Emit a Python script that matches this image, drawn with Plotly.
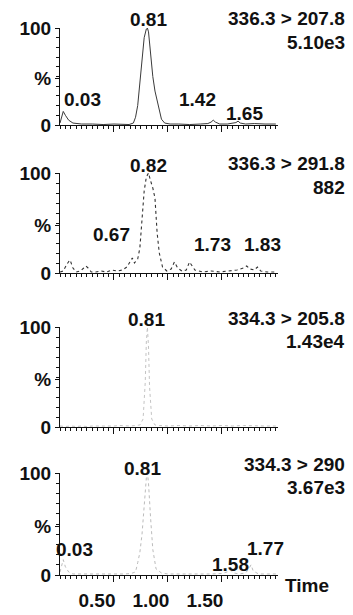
import plotly.graph_objects as go

# MRM chromatograms: retention time (min) vs relative intensity (%)
t_336_207 = [0.00, 0.02, 0.03, 0.05, 0.08, 0.12, 0.20, 0.30, 0.40, 0.50,
             0.58, 0.64, 0.68, 0.70, 0.72, 0.74, 0.76, 0.78, 0.80, 0.81,
             0.82, 0.84, 0.86, 0.88, 0.90, 0.92, 0.94, 0.97, 1.02, 1.10,
             1.20, 1.30, 1.37, 1.40, 1.42, 1.44, 1.48, 1.55, 1.60, 1.63,
             1.65, 1.67, 1.72, 1.80, 1.90, 2.00]
i_336_207 = [2, 9, 14, 10, 5, 2, 1, 1, 0.5, 1,
             0.5, 0.5, 2, 8, 20, 45, 72, 90, 99, 100,
             96, 72, 50, 35, 25, 15, 6, 2, 1, 1,
             0.5, 1, 1.5, 3, 5, 3, 1, 1, 1.5, 2.5,
             4, 2, 1, 1.5, 1, 1]

t_336_291 = [0.00, 0.03, 0.06, 0.08, 0.09, 0.10, 0.12, 0.15, 0.19, 0.22,
             0.24, 0.26, 0.29, 0.33, 0.38, 0.43, 0.48, 0.53, 0.58, 0.62,
             0.65, 0.67, 0.69, 0.72, 0.74, 0.76, 0.78, 0.80, 0.82, 0.84,
             0.86, 0.88, 0.90, 0.92, 0.95, 0.99, 1.03, 1.06, 1.09, 1.13,
             1.17, 1.20, 1.25, 1.32, 1.40, 1.48, 1.56, 1.64, 1.70, 1.73,
             1.76, 1.80, 1.83, 1.86, 1.92, 2.00]
i_336_291 = [1, 2, 8, 12, 13, 11, 5, 1, 2, 5,
             7, 5, 1, 1, 2, 1, 3, 2, 3, 6,
             11, 15, 10, 14, 25, 55, 82, 96, 100, 92,
             85, 75, 40, 20, 6, 2, 4, 11, 5, 2,
             3, 11, 3, 1, 2, 1, 2, 3, 5, 7,
             4, 3, 6, 2, 1, 1]

t_334_205 = [0.00, 0.05, 0.10, 0.15, 0.20, 0.25, 0.30, 0.35, 0.40, 0.45,
             0.50, 0.55, 0.60, 0.65, 0.70, 0.74, 0.77, 0.79, 0.80, 0.81,
             0.82, 0.83, 0.85, 0.88, 0.92, 1.00, 1.10, 1.20, 1.30, 1.40,
             1.50, 1.60, 1.70, 1.80, 1.90, 2.00]
i_334_205 = [1, 0.5, 1, 0.5, 1, 0.5, 1, 1, 0.5, 1,
             1, 1.5, 1, 1, 1.5, 2, 8, 45, 85, 100,
             80, 40, 8, 2, 1.5, 1, 1.5, 1, 1.5, 1,
             1.5, 1, 1.5, 1, 1, 1]

t_334_290 = [0.00, 0.02, 0.03, 0.05, 0.08, 0.12, 0.20, 0.30, 0.40, 0.50,
             0.60, 0.66, 0.70, 0.72, 0.74, 0.76, 0.78, 0.80, 0.81, 0.82,
             0.84, 0.86, 0.89, 0.94, 1.00, 1.10, 1.20, 1.30, 1.40, 1.50,
             1.55, 1.58, 1.61, 1.66, 1.72, 1.75, 1.77, 1.79, 1.84, 1.92,
             2.00]
i_334_290 = [3, 10, 15, 8, 3, 1, 1, 0.5, 1, 1,
             1, 1.5, 3, 12, 22, 40, 70, 95, 100, 90,
             55, 25, 6, 2, 1, 1, 0.5, 1, 1, 1.5,
             3, 5, 2, 1, 2, 6, 10, 4, 1, 1,
             1]

transitions = ["336.3 > 207.8", "336.3 > 291.8", "334.3 > 205.8", "334.3 > 290"]
base_peak_counts = ["5.10e3", "882", "1.43e4", "3.67e3"]

# Apex retention times that get a label in each channel
peak_times = [
    [0.03, 0.81, 1.42, 1.65],
    [0.67, 0.82, 1.73, 1.83],
    [0.81],
    [0.03, 0.81, 1.58, 1.77],
]

time_ticks = [0.50, 1.00, 1.50]

# ---------------------------------------------------------------- layout ---
W, H = 353, 615
FONT = "Liberation Sans, Arial, sans-serif"
FS = 19
INK = "#111111"
BOLD = dict(family=FONT, size=FS, color=INK, weight="bold")

series = [
    (t_336_207, i_336_207),
    (t_336_291, i_336_291),
    (t_334_205, i_334_205),
    (t_334_290, i_334_290),
]
# pixel rows of the 100 % and 0 % levels for each stacked panel
rows_px = [(28, 125), (173, 273), (327, 427), (473, 575)]
x_left_px, x_right_px = 60, 278
t_range = [0, 2.02]

line_styles = [
    dict(color="#3a3a3a", width=1, dash="solid"),
    dict(color="#333333", width=1.1, dash="dot"),
    dict(color="#c4c4c4", width=1, dash="dot"),
    dict(color="#bcbcbc", width=1, dash="dot"),
]

# label placement for each peak label: (height in %, horizontal nudge px)
label_place = [
    [(26, 19), (109, 1), (26, -16), (12, 6)],
    [(39, -21), (108, 0), (29, -34), (29, 5)],
    [(108, -1)],
    [(25, 11), (104, -5), (10, 0), (26, 14)],
]
percent_level = 48

fig = go.Figure()
annotations = []

for k, ((t, inten), (py100, py0)) in enumerate(zip(series, rows_px)):
    n = "" if k == 0 else str(k + 1)
    xa, ya = "x" + n, "y" + n
    px_per_pct = (py0 - py100) / 100.0
    fig.add_trace(go.Scatter(
        x=t, y=inten, mode="lines", line=line_styles[k],
        xaxis=xa, yaxis=ya, showlegend=False, hoverinfo="skip",
    ))

    bottom = k == len(series) - 1
    fig.update_layout(**{
        "xaxis" + n: dict(
            domain=[x_left_px / W, x_right_px / W],
            range=t_range, anchor=ya, automargin=False,
            showline=True, linecolor=INK, linewidth=1.2,
            showgrid=False, zeroline=False,
            ticks="outside", ticklen=6, tickwidth=1, tickcolor=INK,
            tickmode="array", tickvals=time_ticks,
            ticktext=[f"{v:.2f}" for v in time_ticks],
            showticklabels=bottom,
            ticklabelshift=-17, ticklabelstandoff=2,
            tickfont=BOLD,
            minor=dict(ticks="outside", ticklen=3, tickcolor=INK,
                       tickmode="linear", tick0=0, dtick=0.05, showgrid=False),
        ),
        "yaxis" + n: dict(
            domain=[1 - py0 / H, 1 - py100 / H],
            range=[0, 100], anchor=xa, automargin=False,
            showline=True, linecolor=INK, linewidth=1.2,
            showgrid=False, zeroline=False,
            ticks="outside", ticklen=4, tickwidth=1, tickcolor=INK,
            tickmode="array", tickvals=[0, percent_level, 100],
            ticktext=["0", "%", "100"],
            tickfont=BOLD,
            minor=dict(ticks="outside", ticklen=3, tickcolor=INK,
                       tickmode="linear", tick0=0, dtick=10, showgrid=False),
        ),
    })

    # channel name and base-peak intensity, top right
    annotations.append(dict(
        xref="paper", yref="paper", x=347 / W, y=1 - (py100 - 9) / H,
        text=transitions[k], showarrow=False, xanchor="right", yanchor="middle",
        font=BOLD,
    ))
    annotations.append(dict(
        xref="paper", yref="paper", x=347 / W, y=1 - (py100 + 14) / H,
        text=base_peak_counts[k], showarrow=False, xanchor="right", yanchor="middle",
        font=BOLD,
    ))

    # retention-time labels above the peak apexes (anchored on the baseline)
    for rt, (lvl, dx) in zip(peak_times[k], label_place[k]):
        annotations.append(dict(
            xref=xa, yref=ya, x=rt, y=0, xshift=dx, yshift=lvl * px_per_pct,
            text=f"{rt:.2f}", showarrow=False,
            xanchor="center", yanchor="middle",
            font=BOLD,
        ))

annotations.append(dict(
    xref="paper", yref="paper", x=283 / W, y=1 - 585 / H,
    text="Time", showarrow=False, xanchor="left", yanchor="middle",
    font=BOLD,
))

fig.update_layout(
    width=W, height=H,
    margin=dict(l=0, r=0, t=0, b=0, pad=0, autoexpand=False),
    paper_bgcolor="white", plot_bgcolor="white",
    annotations=annotations,
    font=dict(family=FONT, color=INK),
)

fig.write_html("out.html")
